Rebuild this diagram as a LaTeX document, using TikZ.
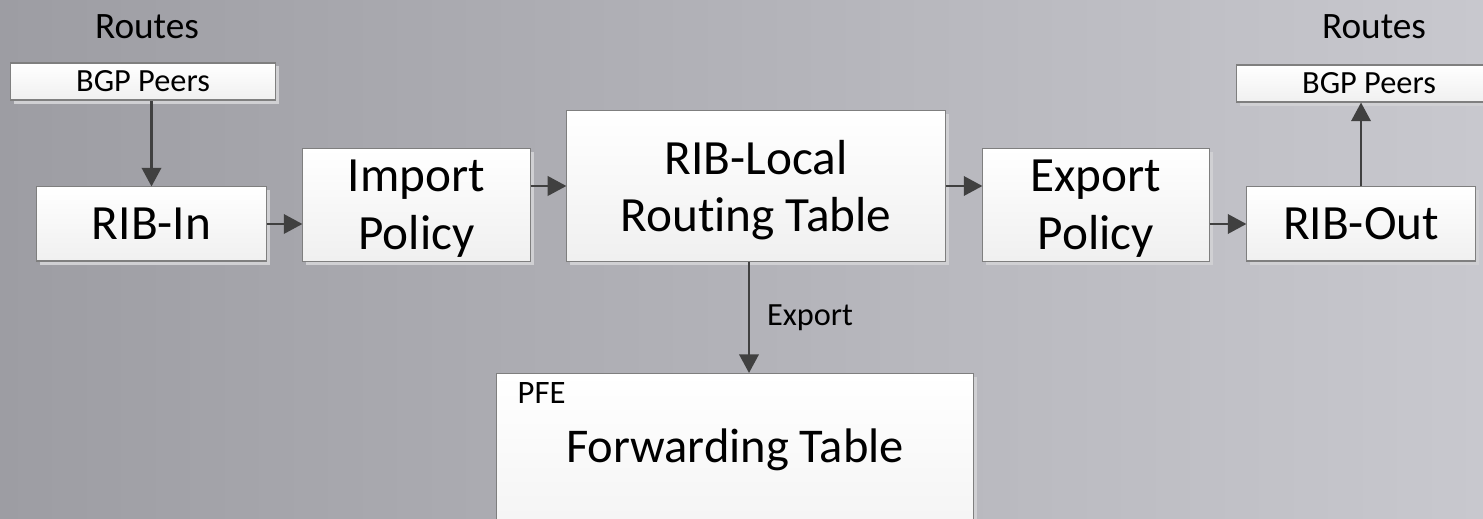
\documentclass[tikz,border=0pt]{standalone}
\usepackage{fontspec}
\setmainfont{Carlito}[RawFeature=-liga]
\usetikzlibrary{arrows.meta}
\usetikzlibrary{shadows}

\definecolor{metalL}{HTML}{9D9DA3}
\definecolor{metalR}{HTML}{C8C8CE}
\definecolor{boxline}{HTML}{7F7F7F}
\definecolor{arrowgray}{HTML}{404040}
\definecolor{shadowgray}{HTML}{D0D0D3}

\newcommand{\bigfont}{\fontsize{14}{16.4}\selectfont}
\newcommand{\tablefont}{\fontsize{13.8}{16}\selectfont}
\newcommand{\midfont}{\fontsize{10.6}{12}\selectfont}
\newcommand{\smallfont}{\fontsize{9.2}{11}\selectfont}
\newcommand{\pfefont}{\fontsize{9.3}{11}\selectfont}

\tikzset{
  box/.style={draw=boxline, line width=0.3pt, top color=white, bottom color=black!6,
    drop shadow={shadow xshift=0.035cm, shadow yshift=-0.035cm, fill=shadowgray, opacity=1},
    align=center, inner sep=0pt},
  twoline/.style={text depth=0pt},
  bigtxt/.style={font=\bigfont},
  midtxt/.style={font=\midfont},
  smalltxt/.style={font=\smallfont},
  flow/.style={->, draw=arrowgray, line width=0.75pt}
}

\begin{document}
\begin{tikzpicture}[x=0.01cm, y=-0.01cm, >={Triangle[length=5.3pt, width=5.5pt]}]
    \useasboundingbox (0,0) rectangle (1483,519);
    \clip (0,0) rectangle (1483,519);
    % Background
    \shade[left color=metalL, right color=metalR] (0,0) rectangle (1483,519);

    % Incoming side
    \node[midtxt] (routesin) at (147,27) {Routes};
    \node[box, smalltxt, minimum width=2.64cm, minimum height=0.37cm] (peersin) at (143,81.5) {BGP Peers};
    \node[box, bigtxt, minimum width=2.29cm, minimum height=0.74cm] (ribin) at (151.5,224) {RIB-In};
    \node[box, twoline, bigtxt, minimum width=2.27cm, minimum height=1.12cm] (import) at (416.5,205) {Import\\Policy};

    % Local table
    \node[box, twoline, bigtxt, minimum width=3.78cm, minimum height=1.50cm] (riblocal) at (756,186) {RIB-Local\\Routing Table};

    % Outgoing side
    \node[box, twoline, bigtxt, minimum width=2.26cm, minimum height=1.12cm] (export) at (1096,205) {Export\\Policy};
    \node[box, bigtxt, minimum width=2.28cm, minimum height=0.74cm] (ribout) at (1361,224) {RIB-Out};
    \node[box, smalltxt, minimum width=2.64cm, minimum height=0.37cm] (peersout) at (1369,83.5) {BGP Peers};
    \node[midtxt] (routesout) at (1374,27) {Routes};

    % PFE
    \node[box, minimum width=4.76cm, minimum height=2.2cm, anchor=north] (fwd) at (735,373) {};
    \node[font=\pfefont, anchor=north west, inner sep=0pt] (pfe) at (517,382) {PFE};
    \node[font=\tablefont] (fwdtable) at (735,450) {Forwarding Table};

    % Arrows
    \draw[flow] (peersin.south -| ribin.north) -- (ribin.north);
    \draw[flow] (ribin.east) -- (import.west |- ribin.east);
    \draw[flow] (import.east |- riblocal.west) -- (riblocal.west);
    \draw[flow] (riblocal.east) -- (export.west |- riblocal.east);
    \draw[flow] (export.east |- ribout.west) -- (ribout.west);
    \draw[flow] (ribout.north) -- (ribout.north |- peersout.south);
    \draw[flow] ([xshift=-0.07cm]riblocal.south) -- ([xshift=-0.07cm]riblocal.south |- fwd.north)
        node[midway, right=0.05cm, smalltxt] (exportlbl) {Export};
\end{tikzpicture}
\end{document}
